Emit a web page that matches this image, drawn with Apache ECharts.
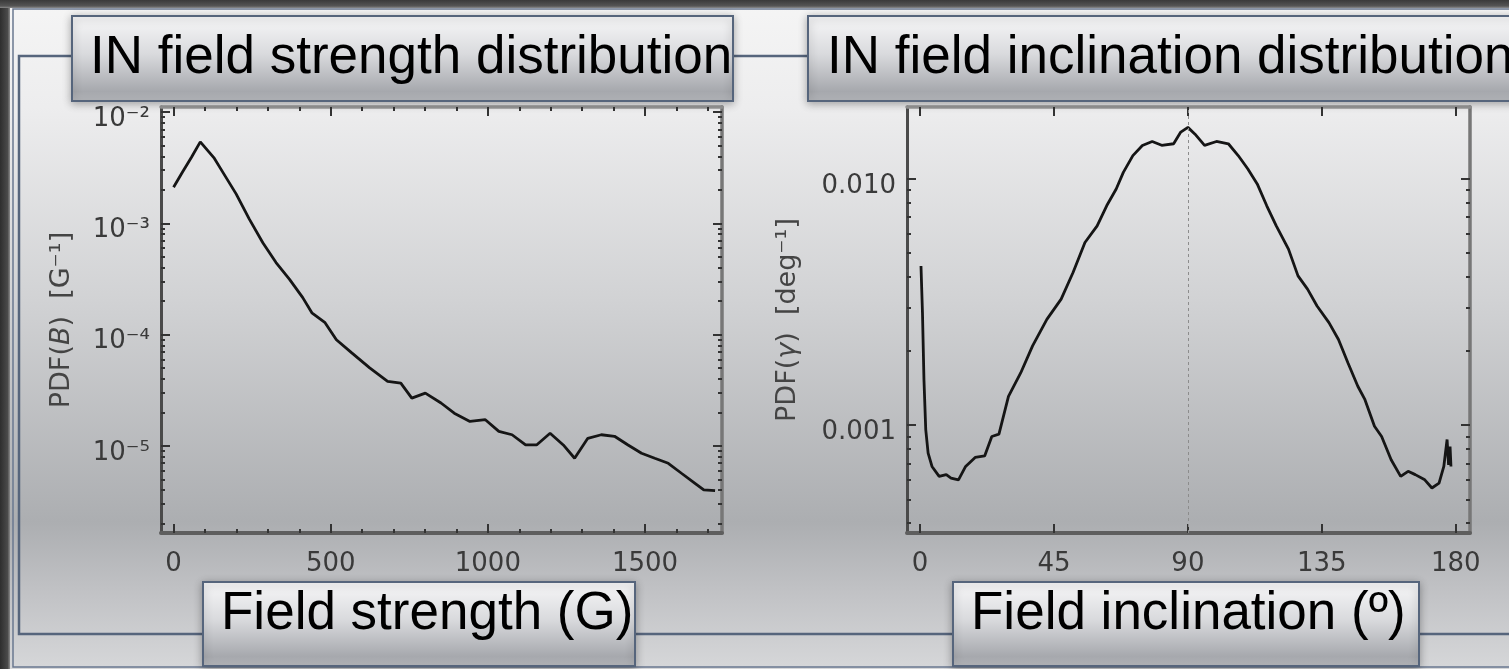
<!DOCTYPE html>
<html><head><meta charset="utf-8">
<script src="https://cdn.jsdelivr.net/npm/echarts@6/dist/echarts.min.js"></script>
<style>html,body{margin:0;padding:0;background:#fff}#c{width:1509px;height:669px}</style>
</head><body><div id="c"></div>
<script>
// ---- data ----
const fieldStrength = [0, 28, 57, 85, 128, 156, 199, 241, 284, 326, 369, 411, 440, 482, 518, 567, 624, 681, 723, 758, 801, 851, 893, 943, 992, 1035, 1077, 1120, 1155, 1198, 1240, 1276, 1318, 1361, 1403, 1446, 1489, 1531, 1574, 1616, 1659, 1687, 1723];
const pdfStrength = [2.11e-3, 2.88e-3, 3.93e-3, 5.4e-3, 3.9e-3, 2.9e-3, 1.84e-3, 1.09e-3, 6.7e-4, 4.44e-4, 3.14e-4, 2.15e-4, 1.57e-4, 1.28e-4, 9.0e-5, 6.85e-5, 5.02e-5, 3.8e-5, 3.67e-5, 2.69e-5, 2.98e-5, 2.43e-5, 1.97e-5, 1.66e-5, 1.72e-5, 1.35e-5, 1.26e-5, 1.02e-5, 1.02e-5, 1.3e-5, 1.02e-5, 7.75e-6, 1.17e-5, 1.26e-5, 1.22e-5, 1.02e-5, 8.6e-6, 7.75e-6, 6.98e-6, 5.68e-6, 4.61e-6, 4.02e-6, 3.96e-6];
const inclination = [0.3, 0.8, 1.3, 1.9, 2.7, 4.0, 6.4, 8.8, 10.4, 12.9, 15.3, 18.5, 21.7, 24.1, 26.5, 29.7, 33.8, 37.8, 42.6, 47.4, 51.4, 55.4, 59.5, 62.7, 65.9, 68.3, 71.5, 74.7, 78, 81.2, 85.2, 87.6, 90, 92.4, 95.6, 99.6, 103.6, 106.9, 110.1, 113.3, 116.5, 119.7, 123.8, 127, 130.2, 133.4, 137.4, 140.6, 143.8, 147.1, 149.5, 152.7, 155.1, 158.3, 161.5, 164, 166.4, 169.6, 172, 174.4, 176, 177.1, 177.6, 178.1, 178.4];
const pdfInclination = [4.43e-3, 2.86e-3, 1.53e-3, 9.6e-4, 7.7e-4, 6.8e-4, 6.2e-4, 6.3e-4, 6.1e-4, 6.0e-4, 6.8e-4, 7.4e-4, 7.5e-4, 9.0e-4, 9.2e-4, 1.31e-3, 1.63e-3, 2.1e-3, 2.69e-3, 3.25e-3, 4.17e-3, 5.52e-3, 6.45e-3, 7.78e-3, 9.1e-3, 1.064e-2, 1.244e-2, 1.368e-2, 1.42e-2, 1.37e-2, 1.39e-2, 1.55e-2, 1.62e-2, 1.52e-2, 1.37e-2, 1.42e-2, 1.39e-2, 1.245e-2, 1.1e-2, 9.55e-3, 7.78e-3, 6.45e-3, 5.19e-3, 4.04e-3, 3.57e-3, 3.05e-3, 2.61e-3, 2.23e-3, 1.79e-3, 1.44e-3, 1.27e-3, 9.9e-4, 9.0e-4, 7.24e-4, 6.2e-4, 6.5e-4, 6.3e-4, 6.0e-4, 5.56e-4, 5.82e-4, 6.8e-4, 8.75e-4, 6.9e-4, 8.2e-4, 6.8e-4];

const strengthTicks = [0, 500, 1000, 1500];
const strengthMinorTicks = [100, 200, 300, 400, 600, 700, 800, 900, 1100, 1200, 1300, 1400, 1600, 1700];
const strengthPdfTicks = [1e-5, 1e-4, 1e-3, 1e-2];
const strengthPdfMinorTicks = [2e-6, 3e-6, 4e-6, 5e-6, 6e-6, 7e-6, 8e-6, 9e-6, 2e-5, 3e-5, 4e-5, 5e-5, 6e-5, 7e-5, 8e-5, 9e-5, 2e-4, 3e-4, 4e-4, 5e-4, 6e-4, 7e-4, 8e-4, 9e-4, 2e-3, 3e-3, 4e-3, 5e-3, 6e-3, 7e-3, 8e-3, 9e-3];
const strengthPdfLabels = ['10⁻⁵', '10⁻⁴', '10⁻³', '10⁻²'];
const inclinationTicks = [0, 45, 90, 135, 180];
const inclinationPdfTicks = [0.001, 0.01];
const inclinationPdfLabels = ['0.001', '0.010'];
const inclinationPdfMinorTicks = [4e-4, 5e-4, 6e-4, 7e-4, 8e-4, 9e-4, 2e-3, 3e-3, 4e-3, 5e-3, 6e-3, 7e-3, 8e-3, 9e-3];
const dividerAngle = [90];

const titleTexts = ['IN field strength distribution', 'IN field inclination distribution'];
const axisTitleTexts = ['Field strength (G)', 'Field inclination (º)'];
const yNames = ['PDF({i|B})  [G⁻¹]', 'PDF({i|γ})  [deg⁻¹]'];

// ---- chart ----
const chart = echarts.init(document.getElementById('c'), null, {renderer: 'canvas'});
const LF = 'DejaVu Sans';
const labelColor = '#3a3a3a';
const LS = 26;

function xAxes(grid, min, max, major, minor) {
  const base = {type: 'value', gridIndex: grid, min: min, max: max, splitLine: {show: false},
    axisLine: {onZero: false}};
  return [
    Object.assign({}, base, {position: 'bottom',
      axisLine: {onZero: false, lineStyle: {color: '#5e5e5e', width: 4}},
      axisTick: {inside: true, length: 9, lineStyle: {color: '#333', width: 2}, customValues: major},
      axisLabel: {margin: 18, fontFamily: LF, fontSize: LS, color: labelColor, customValues: major,
        formatter: function (v) { return String(v); }}}),
    Object.assign({}, base, {position: 'bottom',
      axisLine: {show: false, onZero: false},
      axisTick: {show: minor.length > 0, inside: true, length: 4, lineStyle: {color: '#333', width: 2}, customValues: minor.length ? minor : major},
      axisLabel: {show: false}}),
    Object.assign({}, base, {position: 'top',
      axisLine: {onZero: false, lineStyle: {color: '#999', width: 3.5}},
      axisTick: {inside: true, length: 9, lineStyle: {color: '#333', width: 2}, customValues: major},
      axisLabel: {show: false}}),
    Object.assign({}, base, {position: 'top',
      axisLine: {show: false, onZero: false},
      axisTick: {show: minor.length > 0, inside: true, length: 4, lineStyle: {color: '#333', width: 2}, customValues: minor.length ? minor : major},
      axisLabel: {show: false}})
  ];
}
function yAxes(grid, min, max, major, minor, labels, name, gap) {
  const base = {type: 'log', logBase: 10, gridIndex: grid, min: min, max: max, splitLine: {show: false}};
  return [
    Object.assign({}, base, {position: 'left', name: name, nameLocation: 'middle', nameGap: gap,
      nameTextStyle: {fontFamily: LF, fontSize: 27, color: '#444',
        rich: {i: {fontFamily: LF, fontSize: 27, fontStyle: 'italic', color: '#444'}}},
      axisLine: {onZero: false, lineStyle: {color: '#4a4a4a', width: 3}},
      axisTick: {inside: true, length: 9, lineStyle: {color: '#333', width: 2}, customValues: major},
      axisLabel: {margin: 11, fontFamily: LF, fontSize: LS, color: labelColor, customValues: major,
        verticalAlign: 'top', lineHeight: 14,
        formatter: function (v) { const i = major.findIndex(m => Math.abs(Math.log10(m) - Math.log10(v)) < 1e-6); return i >= 0 ? labels[i] : ''; }}}),
    Object.assign({}, base, {position: 'left',
      axisLine: {show: false, onZero: false},
      axisTick: {inside: true, length: 4, lineStyle: {color: '#333', width: 2}, customValues: minor},
      axisLabel: {show: false}}),
    Object.assign({}, base, {position: 'right',
      axisLine: {onZero: false, lineStyle: {color: '#777', width: 3.5}},
      axisTick: {inside: true, length: 9, lineStyle: {color: '#333', width: 2}, customValues: major},
      axisLabel: {show: false}}),
    Object.assign({}, base, {position: 'right',
      axisLine: {show: false, onZero: false},
      axisTick: {inside: true, length: 4, lineStyle: {color: '#333', width: 2}, customValues: minor},
      axisLabel: {show: false}})
  ];
}

const boxFill = {type: 'linear', x: 0, y: 0, x2: 0, y2: 1, colorStops: [
  {offset: 0, color: '#f8f8f9'}, {offset: 0.45, color: '#d9dadd'}, {offset: 0.88, color: '#a6a8ad'}, {offset: 1, color: '#b8babe'}]};
function box(x, y, w, h, text, tx, ty) {
  return [
    {type: 'rect', z: 100, shape: {x: x, y: y, width: w, height: h},
     style: {fill: boxFill, stroke: '#56657c', lineWidth: 2, shadowBlur: 8, shadowColor: 'rgba(0,0,0,0.3)', shadowOffsetY: 2}},
    {type: 'text', z: 101, x: tx, y: ty,
     style: {text: text, fill: '#000', font: '53px "Liberation Sans", Arial, sans-serif', verticalAlign: 'middle', textVerticalAlign: 'middle', align: 'left'}}
  ];
}

const graphics = [].concat(
  [
    {type: 'rect', z: -100, shape: {x: 0, y: 0, width: 1509, height: 669},
     style: {fill: {type: 'linear', x: 0, y: 0, x2: 0, y2: 1, colorStops: [
       {offset: 0, color: '#f5f5f5'}, {offset: 0.16, color: '#ededee'}, {offset: 0.45, color: '#d1d2d4'},
       {offset: 0.78, color: '#acaeb1'}, {offset: 0.88, color: '#c0c1c4'}, {offset: 1, color: '#d6d7d9'}]}}},
    {type: 'rect', z: -90, shape: {x: 0, y: 0, width: 10, height: 669},
     style: {fill: {type: 'linear', x: 0, y: 0, x2: 1, y2: 0, colorStops: [
       {offset: 0, color: '#2e2e2e'}, {offset: 0.75, color: '#4a4a4a'}, {offset: 1, color: '#8a8a8a'}]}}},
    {type: 'rect', z: -90, shape: {x: 0, y: 0, width: 1509, height: 8},
     style: {fill: {type: 'linear', x: 0, y: 0, x2: 0, y2: 1, colorStops: [
       {offset: 0, color: '#3a3a3a'}, {offset: 0.75, color: '#555'}, {offset: 1, color: '#8a8a8a'}]}}},
    {type: 'rect', z: -80, shape: {x: 13, y: 9, width: 1600, height: 658},
     style: {fill: null, stroke: '#6a7890', lineWidth: 1.5}},
    {type: 'rect', z: -80, shape: {x: 19, y: 56, width: 1600, height: 578},
     style: {fill: null, stroke: '#56657c', lineWidth: 2.5}}
  ],
  box(72, 16, 661, 85, titleTexts[0], 90, 58),
  box(808, 16, 760, 85, titleTexts[1], 827, 58),
  box(203, 582, 432, 84, axisTitleTexts[0], 221, 614),
  box(953, 582, 466, 84, axisTitleTexts[1], 971, 614)
);

const option = {
  animation: false,
  backgroundColor: 'transparent',
  graphic: {elements: graphics},
  grid: [
    {left: 161, top: 107, width: 561, height: 426, containLabel: false},
    {left: 907, top: 107, width: 563, height: 426, containLabel: false}
  ],
  xAxis: [].concat(
    xAxes(0, -40, 1745, strengthTicks, strengthMinorTicks),
    xAxes(1, -4.4, 184.8, inclinationTicks, [])
  ),
  yAxis: [].concat(
    yAxes(0, 1.65e-6, 0.0111, strengthPdfTicks, strengthPdfMinorTicks, strengthPdfLabels, yNames[0], 86),
    yAxes(1, 3.65e-4, 0.0196, inclinationPdfTicks, inclinationPdfMinorTicks, inclinationPdfLabels, yNames[1], 106)
  ),
  series: [
    {type: 'line', xAxisIndex: 0, yAxisIndex: 0, showSymbol: false, symbol: 'none',
     lineStyle: {color: '#151515', width: 2.8}, data: fieldStrength.map((b, i) => [b, pdfStrength[i]])},
    {type: 'line', xAxisIndex: 4, yAxisIndex: 4, showSymbol: false, symbol: 'none',
     lineStyle: {color: '#151515', width: 2.8}, data: inclination.map((g, i) => [g, pdfInclination[i]]),
     markLine: {silent: true, symbol: 'none', label: {show: false},
       lineStyle: {type: [3, 3], color: '#8c8c8c', width: 1}, data: dividerAngle.map(a => ({xAxis: a}))}}
  ]
};
chart.setOption(option);
</script></body></html>
